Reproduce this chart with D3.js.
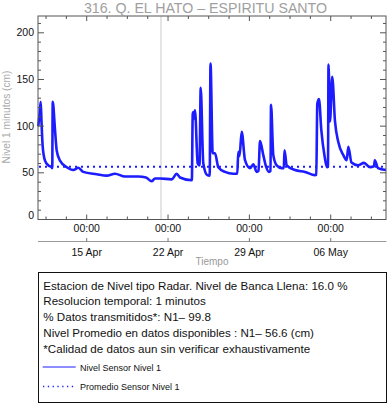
<!DOCTYPE html>
<html><head><meta charset="utf-8">
<script src="https://cdn.jsdelivr.net/npm/d3@7"></script>
<style>body{margin:0;background:#fff;}svg{display:block;font-family:"Liberation Sans",Arial,Helvetica,sans-serif;}</style>
</head><body><svg id="c" width="388" height="404"></svg>
<script>
const title = "316. Q. EL HATO \u2013 ESPIRITU SANTO";
const yLabel = "Nivel 1 minutos (cm)";
const xLabel = "Tiempo";
const timeDomain = ["2021-04-10T19:25", "2021-05-10T18:10"];
const yDomain = [0, 218];
const yMajor = [0, 50, 100, 150, 200];
const xMajor = ["2021-04-15T00:00", "2021-04-22T00:00", "2021-04-29T00:00", "2021-05-06T00:00"];
const xMajorTime = ["00:00", "00:00", "00:00", "00:00"];
const xMajorDate = ["15 Apr", "22 Apr", "29 Apr", "06 May"];
const markerTime = "2021-04-21T09:28";
const meanLevel = 56.6;
const levelTimes = [
"2021-04-10T20:00","2021-04-10T22:30","2021-04-11T01:00","2021-04-11T02:38","2021-04-11T05:07","2021-04-11T09:52",
"2021-04-11T16:41","2021-04-11T23:43","2021-04-12T00:50","2021-04-12T01:50","2021-04-12T06:32","2021-04-12T10:02",
"2021-04-12T16:50","2021-04-13T06:55","2021-04-13T20:20","2021-04-14T06:40","2021-04-14T16:58","2021-04-15T20:40",
"2021-04-16T17:18","2021-04-17T10:27","2021-04-18T07:06","2021-04-19T10:35","2021-04-20T02:29","2021-04-20T14:15",
"2021-04-20T21:04","2021-04-21T07:24","2021-04-22T07:34","2021-04-22T17:53","2021-04-23T00:42","2021-04-24T00:52",
"2021-04-24T01:10","2021-04-24T03:00","2021-04-24T04:10","2021-04-24T05:37","2021-04-24T07:41","2021-04-24T13:15",
"2021-04-24T16:58","2021-04-24T19:28","2021-04-25T00:50","2021-04-25T09:05","2021-04-25T14:03","2021-04-25T15:42",
"2021-04-25T20:14","2021-04-26T00:59","2021-04-26T07:48","2021-04-26T21:38","2021-04-27T14:47","2021-04-27T23:03",
"2021-04-28T01:06","2021-04-28T03:36","2021-04-28T08:08","2021-04-28T14:57","2021-04-29T01:16","2021-04-29T08:05",
"2021-04-29T15:07","2021-04-29T18:50","2021-04-29T21:56","2021-04-30T04:45","2021-04-30T09:42","2021-04-30T16:31",
"2021-04-30T19:38","2021-04-30T20:40","2021-05-01T01:25","2021-05-01T08:25","2021-05-01T18:45","2021-05-01T23:05",
"2021-05-02T00:32","2021-05-02T05:05","2021-05-02T22:13","2021-05-03T18:53","2021-05-04T15:32","2021-05-04T18:13",
"2021-05-04T20:17","2021-05-04T23:47","2021-05-05T04:32","2021-05-05T11:34","2021-05-05T16:19","2021-05-05T18:23",
"2021-05-05T19:25","2021-05-05T22:31","2021-05-06T03:03","2021-05-06T08:50","2021-05-06T15:39","2021-05-07T01:59",
"2021-05-07T09:00","2021-05-07T12:19","2021-05-07T18:55","2021-05-08T08:21","2021-05-08T20:44","2021-05-09T09:07",
"2021-05-09T17:24","2021-05-09T19:02","2021-05-10T01:39","2021-05-10T18:10"];
const levelValues = [
100,112,126,105,78,63,
58,56,55,126,96,74,
63,56,53,55.5,51,48.5,
47,49,46,46,45,41,
44,44,43,49,45,42,
42,113,115,108,117,60,
58,141,60,47.5,47,167,
71,71,56,51,49,49,
72.5,68,94,63.5,55,59,
51,52,84,69,58,51,
52,123,69,58,55,55,
74,58,53,51,47.5,48,
124,129,96,67,56,57,
166,105,153,105,83,69,
63.5,78,61,58,60.7,56,
57,63.5,55,53];
const legendLines = [
"Estacion de Nivel tipo Radar. Nivel de Banca Llena: 16.0 %",
"Resolucion temporal: 1 minutos",
"% Datos transmitidos*: N1\u2013 99.8",
"Nivel Promedio en datos disponibles : N1\u2013 56.6 (cm)",
"*Calidad de datos aun sin verificar exhaustivamente"];
const legendSeries = ["Nivel Sensor Nivel 1", "Promedio Sensor Nivel 1"];

const parse = d3.timeParse("%Y-%m-%dT%H:%M");
const svg = d3.select("#c");
const L = 38, R = 386, T = 16, B = 219.5;
const x = d3.scaleTime().domain(timeDomain.map(parse)).range([L, R]);
const y = d3.scaleLinear().domain(yDomain).range([B, T]);
const blue = "#1c1cff";
const axisCol = "#555";

// marker line
svg.append("line").attr("x1", x(parse(markerTime))).attr("x2", x(parse(markerTime)))
  .attr("y1", T).attr("y2", B).attr("stroke", "#dcdcdc").attr("stroke-width", 1.5);

// data
const data = levelTimes.map((t, i) => ({t: parse(t), v: levelValues[i]}));
svg.append("path").datum(data)
  .attr("d", d3.line().curve(d3.curveMonotoneX).x(d => x(d.t)).y(d => y(d.v)))
  .attr("fill", "none").attr("stroke", blue).attr("stroke-width", 2.6).attr("stroke-linejoin", "round");

// mean
svg.append("line").attr("x1", L + 1).attr("x2", R).attr("y1", y(meanLevel)).attr("y2", y(meanLevel))
  .attr("stroke", blue).attr("stroke-width", 2).attr("stroke-dasharray", "2,4");

// frame
svg.append("rect").attr("x", L).attr("y", T).attr("width", R - L).attr("height", B - T)
  .attr("fill", "none").attr("stroke", axisCol).attr("stroke-width", 1);

// y ticks
const yMinor = d3.range(yDomain[0], yDomain[1], 10);
const yt = svg.append("g").attr("stroke", axisCol).attr("stroke-width", 1);
yMinor.forEach(v => {
  const len = v % 50 === 0 ? 6 : 3;
  yt.append("line").attr("x1", L).attr("x2", L + len).attr("y1", y(v)).attr("y2", y(v));
  yt.append("line").attr("x1", R).attr("x2", R - len).attr("y1", y(v)).attr("y2", y(v));
});
svg.append("g").selectAll("text").data(yMajor).join("text")
  .attr("x", 34).attr("y", d => d === 0 ? y(d) - 0.5 : y(d) + 3.6)
  .attr("text-anchor", "end").attr("font-size", 10.5).attr("fill", "#111").text(d => d);

// x ticks
const base = parse(xMajor[0]);
const step = 42 * 3600 * 1000;
const xt = svg.append("g").attr("stroke", axisCol).attr("stroke-width", 1);
for (let k = -4; k <= 20; k++) {
  const t = new Date(base.getTime() + k * step);
  const px = x(t);
  if (px <= L + 0.5 || px >= R - 0.5) continue;
  const len = k % 4 === 0 ? 5 : 3;
  xt.append("line").attr("x1", px).attr("x2", px).attr("y1", B).attr("y2", B - len);
  xt.append("line").attr("x1", px).attr("x2", px).attr("y1", T).attr("y2", T + len);
}
const xm = xMajor.map(parse);
svg.append("g").selectAll("text").data(xm).join("text")
  .attr("x", d => x(d)).attr("y", 231.5).attr("text-anchor", "middle")
  .attr("font-size", 10.5).attr("fill", "#111").text((d, i) => xMajorTime[i]);
// second axis
svg.append("line").attr("x1", L).attr("x2", R + 0.5).attr("y1", 241.5).attr("y2", 241.5)
  .attr("stroke", "#999").attr("stroke-width", 1.2);
svg.append("g").selectAll("line").data(xm).join("line")
  .attr("x1", d => x(d)).attr("x2", d => x(d)).attr("y1", 241.5).attr("y2", 238)
  .attr("stroke", "#777");
svg.append("g").selectAll("text").data(xm).join("text")
  .attr("x", d => x(d)).attr("y", 256).attr("text-anchor", "middle")
  .attr("font-size", 10.5).attr("fill", "#111").text((d, i) => xMajorDate[i]);

svg.append("text").attr("x", 212).attr("y", 265).attr("text-anchor", "middle")
  .attr("font-size", 10).attr("fill", "#999").text(xLabel);
svg.append("text").attr("transform", "translate(9.5,117) rotate(-90)").attr("text-anchor", "middle")
  .attr("font-size", 10.2).attr("fill", "#aaa").text(yLabel);
svg.append("text").attr("x", 205.5).attr("y", 12.5).attr("text-anchor", "middle")
  .attr("font-size", 14.2).attr("fill", "#a0a0a0").text(title);

// legend box
svg.append("rect").attr("x", 38.5).attr("y", 272.5).attr("width", 348).attr("height", 130)
  .attr("fill", "none").attr("stroke", "#111").attr("stroke-width", 1);
const lb = [289.5, 305.3, 321, 336.8, 352.6];
svg.append("g").selectAll("text").data(legendLines).join("text")
  .attr("x", 43.3).attr("y", (d, i) => lb[i]).attr("font-size", 11.6).attr("fill", "#111").text(d => d);
svg.append("line").attr("x1", 42.7).attr("x2", 75.7).attr("y1", 367).attr("y2", 367)
  .attr("stroke", blue).attr("stroke-width", 1);
svg.append("line").attr("x1", 43).attr("x2", 76).attr("y1", 386.5).attr("y2", 386.5)
  .attr("stroke", blue).attr("stroke-width", 1.3).attr("stroke-dasharray", "1.3,3.5");
svg.append("text").attr("x", 80).attr("y", 370.5).attr("font-size", 9).attr("fill", "#111").text(legendSeries[0]);
svg.append("text").attr("x", 80).attr("y", 389.5).attr("font-size", 9).attr("fill", "#111").text(legendSeries[1]);
</script></body></html>
